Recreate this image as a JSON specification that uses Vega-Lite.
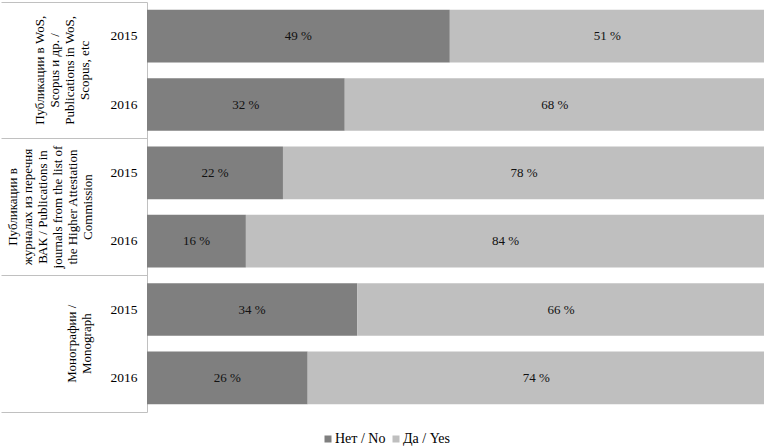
{
  "$schema": "https://vega.github.io/schema/vega-lite/v6.json",
  "width": 618,
  "height": 410,
  "padding": {"left": 0, "top": 1, "right": 0, "bottom": 0},
  "background": "white",
  "config": {
    "view": {"stroke": null},
    "font": "Liberation Serif"
  },
  "data": {
    "values": [
      {"group": "Публикации в WoS,|Scopus и др. /|Publications in WoS,|Scopus, etc", "row": "g1 2015", "answer": "Нет / No", "value": 49},
      {"group": "Публикации в WoS,|Scopus и др. /|Publications in WoS,|Scopus, etc", "row": "g1 2015", "answer": "Да / Yes", "value": 51},
      {"group": "Публикации в WoS,|Scopus и др. /|Publications in WoS,|Scopus, etc", "row": "g1 2016", "answer": "Нет / No", "value": 32},
      {"group": "Публикации в WoS,|Scopus и др. /|Publications in WoS,|Scopus, etc", "row": "g1 2016", "answer": "Да / Yes", "value": 68},
      {"group": "Публикации в|журналах из перечня|ВАК / Publications in|journals from the list of|the Higher Attestation|Commission", "row": "g2 2015", "answer": "Нет / No", "value": 22},
      {"group": "Публикации в|журналах из перечня|ВАК / Publications in|journals from the list of|the Higher Attestation|Commission", "row": "g2 2015", "answer": "Да / Yes", "value": 78},
      {"group": "Публикации в|журналах из перечня|ВАК / Publications in|journals from the list of|the Higher Attestation|Commission", "row": "g2 2016", "answer": "Нет / No", "value": 16},
      {"group": "Публикации в|журналах из перечня|ВАК / Publications in|journals from the list of|the Higher Attestation|Commission", "row": "g2 2016", "answer": "Да / Yes", "value": 84},
      {"group": "Монографии /|Monograph", "row": "g3 2015", "answer": "Нет / No", "value": 34},
      {"group": "Монографии /|Monograph", "row": "g3 2015", "answer": "Да / Yes", "value": 66},
      {"group": "Монографии /|Monograph", "row": "g3 2016", "answer": "Нет / No", "value": 26},
      {"group": "Монографии /|Monograph", "row": "g3 2016", "answer": "Да / Yes", "value": 74}
    ]
  },
  "layer": [
    {
      "mark": {"type": "bar"},
      "encoding": {
        "y": {
          "field": "row", "type": "nominal", "sort": null,
          "scale": {"paddingInner": 0.23, "paddingOuter": 0.115},
          "axis": {
            "title": null, "orient": "left", "domain": false, "ticks": false,
            "labelExpr": "slice(datum.label, -4)",
            "labelFont": "Liberation Serif", "labelFontSize": 13.5, "labelColor": "#000000",
            "labelPadding": 10
          }
        },
        "x": {
          "field": "value", "type": "quantitative", "stack": "zero",
          "scale": {"domain": [0, 100], "nice": false},
          "axis": null
        },
        "order": {"field": "answer", "sort": "descending"},
        "color": {
          "field": "answer", "type": "nominal",
          "scale": {"domain": ["Нет / No", "Да / Yes"], "range": ["#7f7f7f", "#bfbfbf"]},
          "legend": {
            "title": null, "orient": "none", "direction": "horizontal",
            "legendX": 174, "legendY": 430,
            "symbolType": "square", "symbolSize": 49, "symbolStrokeWidth": 0,
            "labelFont": "Liberation Serif", "labelFontSize": 14, "labelColor": "#000000",
            "labelOffset": 0, "columnPadding": 3
          }
        }
      }
    },
    {
      "mark": {"type": "text", "font": "Liberation Serif", "fontSize": 13, "color": "#111111", "text": {"expr": "datum.value + ' %'"}},
      "encoding": {
        "y": {
          "field": "row", "type": "nominal", "sort": null,
          "scale": {"paddingInner": 0.23, "paddingOuter": 0.115},
          "axis": null
        },
        "x": {
          "field": "value", "type": "quantitative", "stack": "zero", "bandPosition": 0.5,
          "scale": {"domain": [0, 100], "nice": false},
          "axis": null
        },
        "order": {"field": "answer", "sort": "descending"}
      }
    },
    {
      "mark": {"type": "tick", "opacity": 0},
      "encoding": {
        "y": {
          "field": "group", "type": "nominal", "sort": null,
          "scale": {"paddingInner": 0, "paddingOuter": 0},
          "axis": {
            "title": null, "orient": "left", "domain": false, "ticks": false,
            "labelExpr": "split(datum.label, '|')",
            "labelAngle": 270, "labelAlign": "center", "labelBaseline": "bottom",
            "labelFont": "Liberation Serif", "labelFontSize": 13, "labelLineHeight": 15,
            "labelColor": "#000000", "labelLimit": 300,
            "labelPadding": {
              "condition": [
                {"test": "indexof(datum.value, 'WoS') >= 0", "value": 101},
                {"test": "indexof(datum.value, 'Монографии') >= 0", "value": 69}
              ],
              "value": 128
            }
          }
        }
      }
    },
    {
      "mark": {"type": "tick", "opacity": 0},
      "encoding": {
        "y": {
          "field": "group", "type": "nominal", "sort": null,
          "scale": {"paddingInner": 0, "paddingOuter": 0},
          "axis": {
            "title": null, "orient": "left", "labels": false,
            "domain": true, "domainColor": "#c0c0c0", "domainWidth": 1,
            "ticks": true, "tickSize": 146, "tickColor": "#c0c0c0", "tickWidth": 1,
            "bandPosition": 1, "tickExtra": true
          }
        }
      }
    }
  ],
  "resolve": {"scale": {"y": "independent"}, "axis": {"y": "independent"}}
}
